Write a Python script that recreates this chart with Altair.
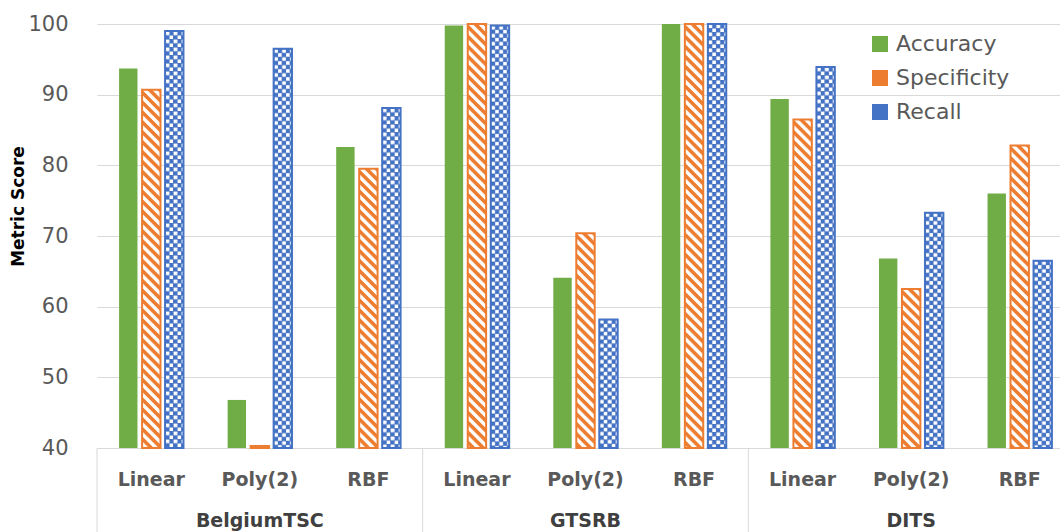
import base64

import altair as alt
import pandas as pd

# ---- values -------------------------------------------------------------
datasets = ["BelgiumTSC", "GTSRB", "DITS"]
kernels = ["Linear", "Poly(2)", "RBF"]
metrics = ["Accuracy", "Specificity", "Recall"]

# one entry per (dataset, kernel), in dataset-major order
accuracy = [93.7, 46.8, 82.6, 99.8, 64.1, 100.0, 89.4, 66.8, 76.0]
specificity = [90.7, 40.3, 79.5, 100.0, 70.4, 100.0, 86.5, 62.5, 82.8]
recall = [99.0, 96.5, 88.1, 99.8, 58.2, 100.0, 93.9, 73.3, 66.5]

y_ticks = [40, 50, 60, 70, 80, 90, 100]

# ---- styling ------------------------------------------------------------
colors = ["#70AD47", "#ED7D31", "#4472C4"]
FONT = "DejaVu Sans"
GRID = "#D9D9D9"

W, H = 963, 424          # visible plot area
FULL_W = 977             # three full dataset groups (last one runs past the edge)


def svg_uri(body):
    svg = (
        '<svg xmlns="http://www.w3.org/2000/svg" width="100%" height="100%">'
        + body
        + "</svg>"
    )
    return "data:image/svg+xml;base64," + base64.b64encode(svg.encode()).decode()


# white diagonal hatching and white checker squares laid over the coloured bars
hatch_uri = svg_uri(
    '<defs><pattern id="p" width="7" height="7" patternUnits="userSpaceOnUse" '
    'patternTransform="rotate(-45)">'
    '<rect x="0" y="0" width="3.4" height="7" fill="#ffffff"/></pattern></defs>'
    '<rect width="100%" height="100%" fill="url(#p)"/>'
)
checker_uri = svg_uri(
    '<defs><pattern id="q" width="8" height="8" patternUnits="userSpaceOnUse">'
    '<rect x="0.5" y="0.5" width="3.8" height="3.6" fill="#ffffff"/>'
    '<rect x="4.5" y="4.5" width="3.8" height="3.6" fill="#ffffff"/></pattern></defs>'
    '<rect width="100%" height="100%" fill="url(#q)"/>'
)

# ---- tables -------------------------------------------------------------
cats = [f"{d}|{k}" for d in datasets for k in kernels]
rows = []
for i, cat in enumerate(cats):
    d, k = cat.split("|")
    for m, vals in zip(metrics, [accuracy, specificity, recall]):
        rows.append({"dataset": d, "kernel": k, "cat": cat, "metric": m, "value": vals[i]})
df = pd.DataFrame(rows)

groups = pd.DataFrame(
    {
        "dataset": datasets,
        "first": [f"{d}|{kernels[0]}" for d in datasets],
        "middle": [f"{d}|{kernels[1]}" for d in datasets],
    }
)

# ---- encodings ----------------------------------------------------------
x_scale = alt.Scale(domain=cats, range=[0, FULL_W], paddingInner=0, paddingOuter=0)
x_enc = alt.X(
    "cat:N",
    scale=x_scale,
    title=None,
    axis=alt.Axis(
        labelExpr="split(datum.label, '|')[1]",
        labelAngle=0,
        labelFont=FONT,
        labelFontSize=19,
        labelFontWeight="bold",
        labelColor="#595959",
        labelBaseline="alphabetic",
        labelPadding=37,
        ticks=False,
        tickSize=0,
        domain=False,
        grid=False,
    ),
)
off_enc = alt.XOffset(
    "metric:N", scale=alt.Scale(domain=metrics, paddingInner=0.2, paddingOuter=0.96)
)
y_enc = alt.Y(
    "value:Q",
    scale=alt.Scale(domain=[40, 100], zero=False, nice=False),
    axis=alt.Axis(
        values=y_ticks,
        title="Metric Score",
        titleFont=FONT,
        titleFontSize=17,
        titleFontWeight="bold",
        titleColor="#000000",
        titleAngle=270,
        titleX=-79,
        titleY=182,
        titleAlign="center",
        titleBaseline="middle",
        labelFont=FONT,
        labelFontSize=21,
        labelColor="#595959",
        labelPadding=29,
        ticks=False,
        tickSize=0,
        domain=False,
        grid=True,
        gridColor=GRID,
        gridWidth=1,
    ),
)
base_y2 = alt.datum(40)

base = alt.Chart(df)

bars = base.mark_bar().encode(
    x=x_enc,
    xOffset=off_enc,
    y=y_enc,
    y2=base_y2,
    color=alt.Color(
        "metric:N",
        scale=alt.Scale(domain=metrics, range=colors),
        legend=alt.Legend(
            title=None,
            orient="none",
            legendX=772,
            legendY=9,
            symbolType="square",
            symbolSize=256,
            symbolStrokeWidth=0,
            labelFont=FONT,
            labelFontSize=22,
            labelColor="#595959",
            labelOffset=5,
            rowPadding=12,
            padding=0,
        ),
    ),
)

hatch = (
    base.transform_filter(alt.datum.metric == "Specificity")
    .mark_image(url=hatch_uri, aspect=False)
    .encode(x=alt.X("cat:N"), xOffset=alt.XOffset("metric:N"), y=alt.Y("value:Q"), y2=base_y2)
)
checker = (
    base.transform_filter(alt.datum.metric == "Recall")
    .mark_image(url=checker_uri, aspect=False)
    .encode(x=alt.X("cat:N"), xOffset=alt.XOffset("metric:N"), y=alt.Y("value:Q"), y2=base_y2)
)

outlines = (
    base.transform_filter(alt.datum.metric != "Accuracy")
    .mark_bar(fillOpacity=0, strokeWidth=2)
    .encode(
        x=alt.X("cat:N"),
        xOffset=alt.XOffset("metric:N"),
        y=alt.Y("value:Q"),
        y2=base_y2,
        stroke=alt.Stroke(
            "metric:N", scale=alt.Scale(domain=metrics, range=colors), legend=None
        ),
    )
)

# group dividers below the baseline, and the dataset names under the kernels
dividers = (
    alt.Chart(groups)
    .mark_rule(color=GRID, strokeWidth=1)
    .encode(
        x=alt.X("first:N", bandPosition=0),
        y=alt.value(H),
        y2=alt.value(H + 84),
    )
)
group_labels = (
    alt.Chart(groups)
    .mark_text(
        font=FONT,
        fontSize=19,
        fontWeight="bold",
        color="#404040",
        baseline="alphabetic",
        align="center",
    )
    .encode(x=alt.X("middle:N", bandPosition=0.5), y=alt.value(H + 79), text="dataset:N")
)

chart = (
    alt.layer(bars, hatch, checker, outlines, dividers, group_labels)
    .properties(
        width=W,
        height=H,
        autosize=alt.AutoSizeParams(type="none"),
        padding={"left": 97, "top": 24, "right": 0, "bottom": 84},
        background="#FFFFFF",
    )
    .configure_view(strokeWidth=0)
)

chart.save("out.html", embed_options={"renderer": "svg", "actions": False})
